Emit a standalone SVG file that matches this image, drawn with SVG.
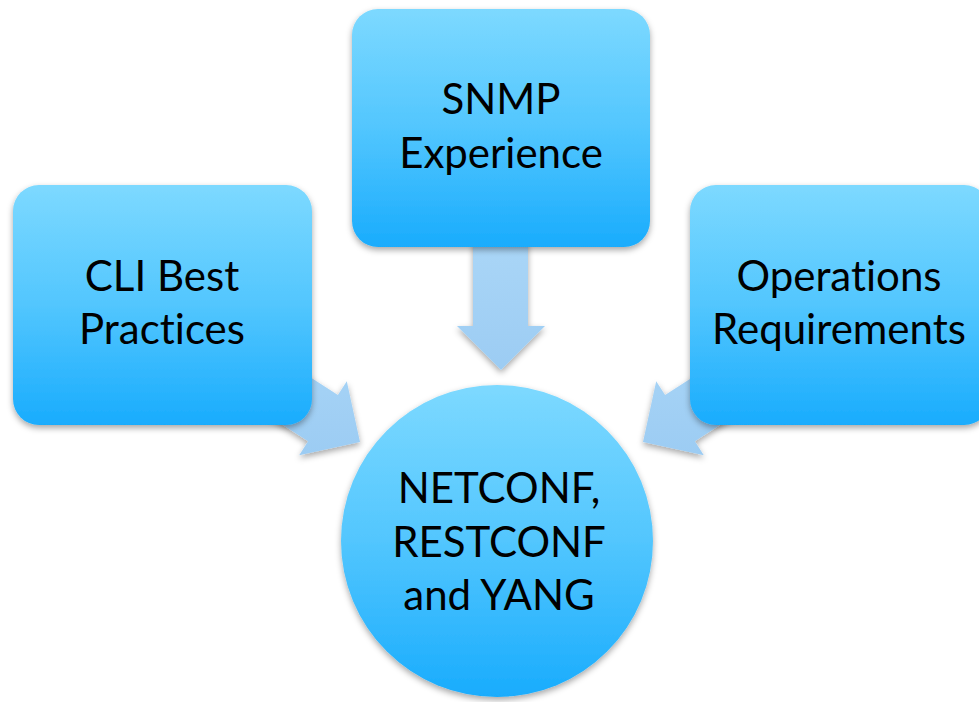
<svg xmlns="http://www.w3.org/2000/svg" width="979" height="702" viewBox="0 0 979 702">
<defs>
<linearGradient id="boxGrad" x1="0" y1="0" x2="0" y2="1">
<stop offset="0" stop-color="#7DD9FF"/>
<stop offset="0.5" stop-color="#52C6FE"/>
<stop offset="1" stop-color="#19ACFD"/>
</linearGradient>
<linearGradient id="arrowGrad" x1="0" y1="0" x2="0" y2="1">
<stop offset="0" stop-color="#AAD6F7"/>
<stop offset="1" stop-color="#9CCCF3"/>
</linearGradient>
<filter id="shadow" x="-10%" y="-10%" width="125%" height="125%">
<feDropShadow dx="0" dy="3" stdDeviation="3" flood-color="#000" flood-opacity="0.35"/>
</filter>
</defs>
<style>
.box{fill:url(#boxGrad);filter:url(#shadow)}
.arrow{fill:url(#arrowGrad);filter:url(#shadow)}
.lbl{font-family:Lato,"Open Sans","Liberation Sans",sans-serif;font-size:42px;fill:#000;text-anchor:middle;font-variant-ligatures:none}
</style>
<rect width="979" height="702" fill="#fff"/>
<g id="connectors">
<polygon class="arrow" points="473,240 528,240 528,326 545,326 501,370 457,326 473,326"/>
<polygon class="arrow" points="237,330 337.9,395.1 346.8,381.2 360,442 299.2,455.2 308.1,441.3 207,376"/>
<polygon class="arrow" points="766,330 665.1,395.1 656.2,381.2 643,442 703.8,455.2 694.9,441.3 796,376"/>
</g>
<g id="snmp">
<rect class="box" x="352" y="9" width="298" height="238" rx="26"/>
<text class="lbl" x="501" y="114">SNMP</text>
<text class="lbl" x="501" y="168">Experience</text>
</g>
<g id="cli">
<rect class="box" x="13" y="185" width="299" height="240" rx="26"/>
<text class="lbl" x="162" y="291">CLI Best</text>
<text class="lbl" x="162" y="344">Practices</text>
</g>
<g id="ops">
<rect class="box" x="690" y="185" width="300" height="240" rx="26"/>
<text class="lbl" x="839" y="291">Operations</text>
<text class="lbl" x="839" y="344">Requirements</text>
</g>
<g id="netconf">
<circle class="box" cx="497" cy="541" r="156"/>
<text class="lbl" x="499" y="503">NETCONF,</text>
<text class="lbl" x="499" y="557">RESTCONF</text>
<text class="lbl" x="499" y="610">and YANG</text>
</g>
</svg>
